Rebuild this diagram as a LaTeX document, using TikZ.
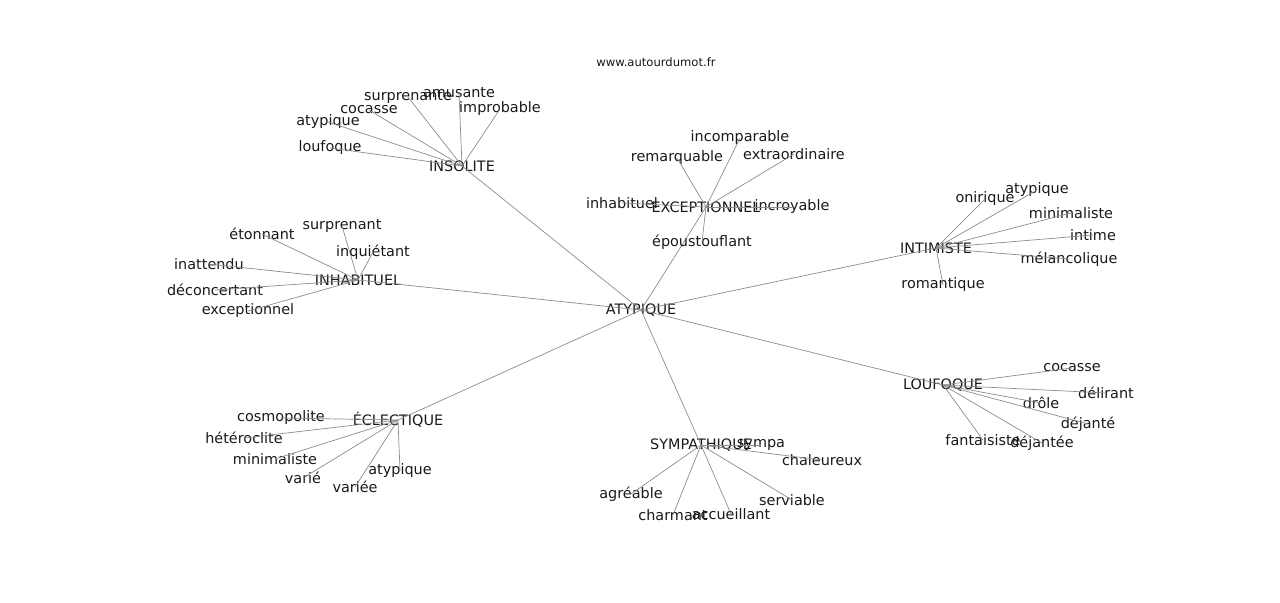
\documentclass[tikz,border=0pt]{standalone}
\usepackage{fontspec}
\setmainfont{DejaVu Sans}
\tikzset{
  word/.style = {inner sep=0pt, font=\fontsize{8.2}{9}\selectfont, text=black!90},
  link/.style = {draw=black!45, line width=0.4pt}
}
% one hub with its leaves
\newcommand{\wordhub}[4]{%
  \node[word] (#1) at (#2,#3) {#4};
  \draw[link] (top.center) -- (#1.center);
}
\newcommand{\leaves}[2]{%
  \foreach \n/\x/\y/\t in {#2} {
    \node[word] (#1-\n) at (\x,\y) {\t};
    \draw[link] (#1.center) -- (#1-\n.center);
  }
}
\begin{document}
\begin{tikzpicture}[x=0.02cm, y=-0.02cm]
\useasboundingbox (0,0) rectangle (1280,602);

\node[word, font=\fontsize{6.6}{8}\selectfont] (site) at (656,62) {www.autourdumot.fr};
\node[word] (top) at (641,310) {ATYPIQUE};

\wordhub{insolite}{462}{166}{INSOLITE}
\leaves{insolite}{a/459/93/amusante, b/408/97/surprenante, c/500/109/improbable,
  d/369/110/cocasse, e/328/122/atypique, f/330/148/loufoque}

\wordhub{except}{706}{207}{EXCEPTIONNEL}
\leaves{except}{a/740/138/incomparable, b/677/158/remarquable, c/794/154/extraordinaire,
  d/622/203/inhabituel, e/792/207/incroyable, f/702/242/époustouflant}

\wordhub{intim}{936}{248}{INTIMISTE}
\leaves{intim}{a/985/199/onirique, b/1037/190/atypique, c/1071/213/minimaliste,
  d/1093/235/intime, e/1069/259/mélancolique, f/943/285/romantique}

\wordhub{louf}{943}{385}{LOUFOQUE}
\leaves{louf}{a/1072/368/cocasse, b/1106/393/délirant, c/1041/403/drôle,
  d/1088/424/déjanté, e/983/440/fantaisiste, f/1042/443/déjantée}

\wordhub{sympa}{701}{445}{SYMPATHIQUE}
\leaves{sympa}{a/761/445/sympa, b/822/460/chaleureux, c/792/500/serviable,
  d/731/514/accueillant, e/673/515/charmant, f/631/494/agréable}

\wordhub{eclec}{398}{420}{ÉCLECTIQUE}
\leaves{eclec}{a/281/418/cosmopolite, b/244/438/hétéroclite, c/275/459/minimaliste,
  d/303/478/varié, e/355/487/variée, f/400/471/atypique}

\wordhub{inhab}{358}{280}{INHABITUEL}
\leaves{inhab}{a/342/226/surprenant, b/262/234/étonnant, c/373/252/inquiétant,
  d/209/264/inattendu, e/215/290/déconcertant, f/248/311/exceptionnel}
\end{tikzpicture}
\end{document}
